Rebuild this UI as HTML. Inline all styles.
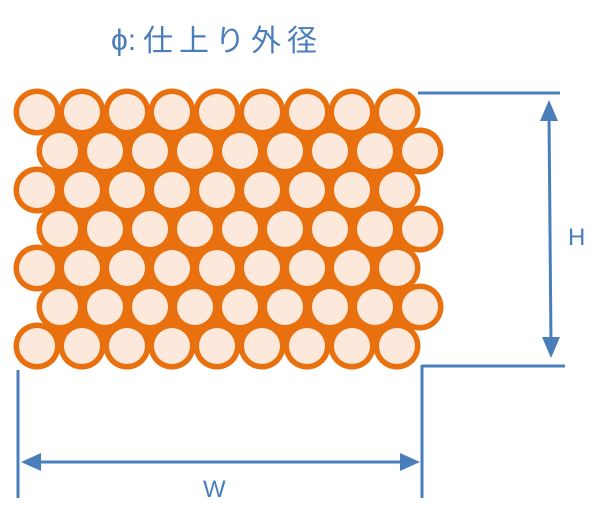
<!DOCTYPE html>
<html><head><meta charset="utf-8"><style>
html,body{margin:0;padding:0;background:#fff;}
svg{display:block;}
text{font-family:"Liberation Sans","Noto Sans CJK JP",sans-serif;fill:#4a7ebb;}
</style></head><body>
<svg width="610" height="530" viewBox="0 0 610 530" xmlns="http://www.w3.org/2000/svg">
<text x="111" y="50" font-size="30">ϕ:</text>
<text x="143" y="51" font-size="30" letter-spacing="6">仕上り外径</text>
<rect x="50" y="112" width="358" height="234" fill="#e8700e"/>
<g fill="#e8700e">
<g id="ro1"><circle cx="37" cy="112" r="23.5"/><circle cx="82" cy="112" r="23.5"/><circle cx="127" cy="112" r="23.5"/><circle cx="172" cy="112" r="23.5"/><circle cx="217" cy="112" r="23.5"/><circle cx="262" cy="112" r="23.5"/><circle cx="307" cy="112" r="23.5"/><circle cx="352" cy="112" r="23.5"/><circle cx="397" cy="112" r="23.5"/></g>
<g id="ro2"><circle cx="60" cy="151" r="23.5"/><circle cx="105" cy="151" r="23.5"/><circle cx="150" cy="151" r="23.5"/><circle cx="195" cy="151" r="23.5"/><circle cx="240" cy="151" r="23.5"/><circle cx="285" cy="151" r="23.5"/><circle cx="330" cy="151" r="23.5"/><circle cx="375" cy="151" r="23.5"/><circle cx="420" cy="151" r="23.5"/></g>
<use href="#ro1" y="78"/><use href="#ro2" y="78"/><use href="#ro1" y="156"/><use href="#ro2" y="156"/><use href="#ro1" y="234"/>
</g>
<g fill="#fde9db">
<g id="ri1"><circle cx="37" cy="112" r="18"/><circle cx="82" cy="112" r="18"/><circle cx="127" cy="112" r="18"/><circle cx="172" cy="112" r="18"/><circle cx="217" cy="112" r="18"/><circle cx="262" cy="112" r="18"/><circle cx="307" cy="112" r="18"/><circle cx="352" cy="112" r="18"/><circle cx="397" cy="112" r="18"/></g>
<g id="ri2"><circle cx="60" cy="151" r="18"/><circle cx="105" cy="151" r="18"/><circle cx="150" cy="151" r="18"/><circle cx="195" cy="151" r="18"/><circle cx="240" cy="151" r="18"/><circle cx="285" cy="151" r="18"/><circle cx="330" cy="151" r="18"/><circle cx="375" cy="151" r="18"/><circle cx="420" cy="151" r="18"/></g>
<use href="#ri1" y="78"/><use href="#ri2" y="78"/><use href="#ri1" y="156"/><use href="#ri2" y="156"/><use href="#ri1" y="234"/>
</g>
<g stroke="#4a7ebb" stroke-width="3" fill="none">
<line x1="418" y1="93" x2="560" y2="93"/>
<line x1="422" y1="366" x2="565" y2="366"/>
<line x1="422" y1="365" x2="422" y2="498"/>
<line x1="18" y1="370" x2="18" y2="498"/>
<line x1="549" y1="115" x2="551" y2="345"/>
<line x1="36" y1="462" x2="406" y2="462"/>
</g>
<g fill="#4a7ebb">
<polygon points="549,100 540,121 558,121"/>
<polygon points="551,358 542,337 560,337"/>
<polygon points="21,462 41,453 41,471"/>
<polygon points="420,462 400,453 400,471"/>
</g>
<text x="568" y="245" font-size="24">H</text>
<text x="203" y="497" font-size="24">W</text>
</svg>
</body></html>
